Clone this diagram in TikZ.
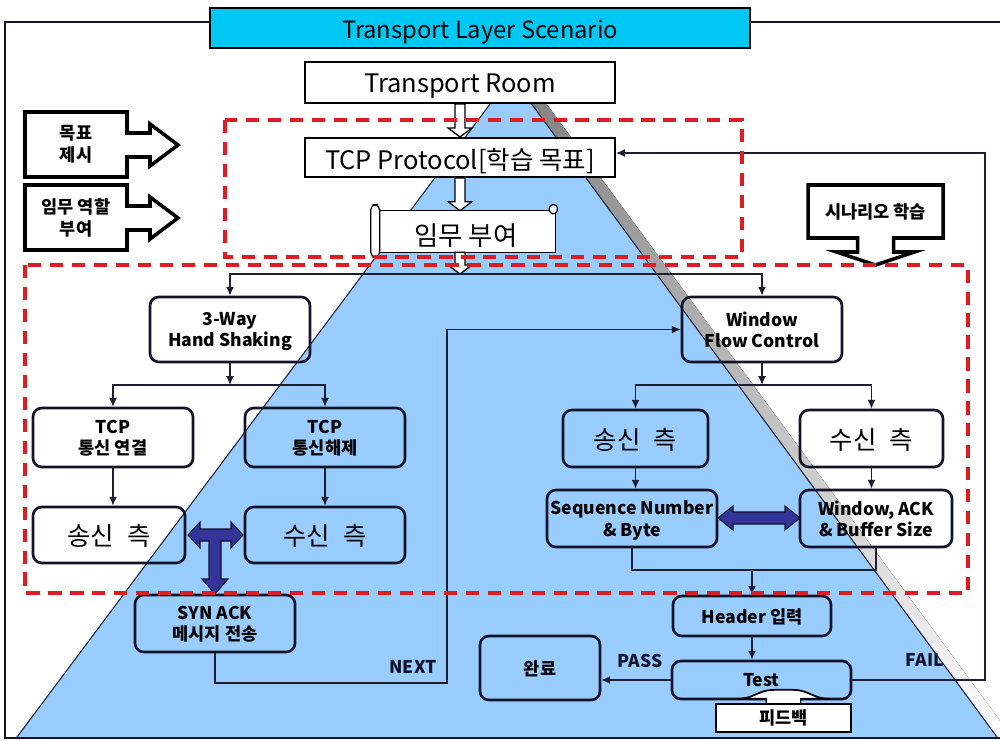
\documentclass[tikz,border=0pt]{standalone}
\usepackage{fontspec}
\setmainfont{Noto Sans CJK KR}
\usetikzlibrary{arrows.meta,calc}

\definecolor{pyramid}{RGB}{153,204,255}
\definecolor{shade}{RGB}{178,178,178}
\definecolor{titlecyan}{RGB}{0,200,245}
\definecolor{dashred}{RGB}{222,28,36}
\definecolor{navyarrow}{RGB}{51,51,153}
\definecolor{boxline}{RGB}{18,18,40}
\definecolor{linec}{RGB}{30,30,50}

% white block arrow pointing down, centred on the x of #1, from y of #2 to y of #3
\newcommand{\hollowdown}[3]{%
  \draw[hollow] ($(#1 |- #2)+(-5,0)$) -- ($(#1 |- #3)+(-5,-9)$) -- ($(#1 |- #3)+(-12,-9)$)
    -- (#1 |- #3) -- ($(#1 |- #3)+(12,-9)$) -- ($(#1 |- #3)+(5,-9)$) -- ($(#1 |- #2)+(5,0)$) -- cycle;}
% one line of text set a little lower than its natural box
\newcommand{\lowered}[1]{\raisebox{-2.2pt}[\height][\depth]{#1}}

\begin{document}
\begin{tikzpicture}[x=0.02cm,y=-0.02cm,
  conn/.style={draw=linec, line width=0.7pt},
  arr/.style={conn, -{Latex[length=5pt,width=4.5pt]}},
  rbox/.style={draw=boxline, line width=1.5pt, rounded corners=5pt, align=center,
    inner sep=1pt, text depth=-1pt, font=\fontsize{10}{12}\selectfont\bfseries},
  bigbox/.style={rbox, font=\fontsize{14.5}{16}\selectfont},
  whitebox/.style={draw=black, line width=1.2pt, fill=white, align=center, inner sep=0pt,
    font=\fontsize{14.5}{16}\selectfont},
  callout/.style={draw=black, line width=2pt, fill=white, line join=miter},
  calltxt/.style={align=center, font=\fontsize{10}{12.5}\selectfont\bfseries},
  hollow/.style={draw=black, line width=0.7pt, fill=white},
  fat/.style={draw=boxline, line width=0.6pt, fill=navyarrow, line join=miter},
  redbox/.style={draw=dashred, line width=2.5pt, dash pattern=on 7.5pt off 5pt},
  lbl/.style={font=\fontsize{10}{12}\selectfont\bfseries, text=boxline},
  frame/.style={draw=boxline, line width=1.6pt}
]
\useasboundingbox (0,0) rectangle (1000,740);

% pyramid with its grey shadow
\fill[shade] (526,76) -- (1012,737) -- (32,737) -- cycle;
\fill[pyramid] (511,76) -- (997,737) -- (17,737) -- cycle;
\draw[linec, line width=0.6pt] (17,737) -- (511,76) -- (997,737);

% outer frame
\draw[frame] (1000,22) -- (5,22) -- (5,738) -- (1000,738);

% title bar
\node[draw=black, line width=1.2pt, fill=titlecyan, minimum width=10.8cm, minimum height=0.8cm,
  inner sep=0pt, font=\fontsize{13.5}{15}\selectfont] (title) at (480,28) {\lowered{Transport Layer Scenario}};

% upper chain
\node[whitebox, minimum width=6.2cm, minimum height=0.82cm] (troom) at (460,82.5) {\lowered{Transport Room}};
\node[whitebox, minimum width=6.2cm, minimum height=0.78cm] (tcpp) at (460,157.5) {\lowered{TCP Protocol[학습 목표]}};

% scroll
\node[minimum width=3.56cm, minimum height=0.82cm, inner sep=0pt] (task) at (466,231.5) {};
\draw[black, line width=0.7pt, fill=white] (task.north west) rectangle (task.south east);
\draw[black, line width=0.7pt, fill=white, rounded corners=3pt]
  ($(task.north west)+(-6,-6)$) rectangle ($(task.south west)+(3,5)$);
\draw[black, line width=0.7pt, fill=white, rounded corners=2pt]
  ($(task.north east)+(-6,-6)$) rectangle ($(task.north east)+(2,3)$);
\node[font=\fontsize{15}{17}\selectfont] (tasktxt) at (task.center) {\lowered{임무 부여}};

\coordinate (j0) at (460,274);
\hollowdown{troom.south}{troom.south}{tcpp.north}
\hollowdown{troom.south}{tcpp.south}{task.north}
\hollowdown{troom.south}{task.south}{j0}

% side callouts
\draw[callout] (25,112) -- (127,112) -- (127,133) -- (150,133) -- (150,124) -- (178,145)
  -- (150,166) -- (150,157) -- (127,157) -- (127,177) -- (25,177) -- cycle;
\node[calltxt] (goal) at (76,144.5) {목표\\제시};
\draw[callout] (25,185) -- (127,185) -- (127,206) -- (150,206) -- (150,197) -- (178,218)
  -- (150,239) -- (150,230) -- (127,230) -- (127,250) -- (25,250) -- cycle;
\node[calltxt] (role) at (76,217.5) {임무 역할\\부여};
\draw[callout] (808,185) -- (943,185) -- (943,238) -- (893.5,238) -- (893.5,252) -- (914.5,252)
  -- (875.5,265) -- (836.5,252) -- (857.5,252) -- (857.5,238) -- (808,238) -- cycle;
\node[calltxt] (scen) at (875.5,211.5) {시나리오 학습};

% handshake branch
\node[rbox, minimum width=3.2cm, minimum height=1.3cm] (hs) at (230,329.5) {3-Way\\Hand Shaking};
\node[rbox, minimum width=3.2cm, minimum height=1.18cm] (tcpc) at (113,437.5) {TCP\\통신 연결};
\node[rbox, minimum width=3.2cm, minimum height=1.18cm] (tcpd) at (325,437.5) {TCP\\통신해제};
\node[bigbox, minimum width=3.04cm, minimum height=1.12cm] (sendL) at (109,535) {송신\hspace{0.5em}측};
\node[bigbox, minimum width=3.2cm, minimum height=1.12cm] (recvL) at (325,535) {수신\hspace{0.5em}측};
\node[rbox, minimum width=3.2cm, minimum height=1.14cm] (syn) at (215,623.5) {SYN ACK\\메시지 전송};

% window branch
\node[rbox, minimum width=3.2cm, minimum height=1.3cm] (wfc) at (762,329.5) {Window\\Flow Control};
\node[bigbox, minimum width=2.9cm, minimum height=1.14cm] (sendR) at (635.5,438.5) {송신\hspace{0.5em}측};
\node[bigbox, minimum width=2.86cm, minimum height=1.14cm] (recvR) at (871.5,438.5) {수신\hspace{0.5em}측};
\node[rbox, minimum width=3.4cm, minimum height=1.14cm] (seq) at (632,518.5) {Sequence Number\\\& Byte};
\node[rbox, minimum width=3.04cm, minimum height=1.14cm] (wack) at (876,518.5) {Window, ACK\\\& Buffer Size};

% test stage
\node[rbox, minimum width=3.16cm, minimum height=0.8cm] (hdr) at (752,616) {Header 입력};
\node[rbox, minimum width=3.58cm, minimum height=0.76cm] (test) at (761.5,680) {Test};
\node[rbox, minimum width=2.4cm, minimum height=1.28cm] (done) at (540,668) {완료};
\node[draw=black, line width=1.3pt, fill=white, minimum width=2.7cm, minimum height=0.56cm,
  inner sep=0pt, font=\fontsize{10}{12}\selectfont\bfseries] (fb) at (783.5,718) {피드백};
\draw[black, line width=1pt, fill=white, line join=round]
  ($(fb.north)+(-17,0)$) -- ($(fb.north)+(-17,-4)$) -- ($(fb.north)+(-46,-4)$)
  .. controls ($(fb.north)+(-30,-4)$) and ($(fb.north)+(-25,-13)$) .. ($(fb.north)+(-10,-13)$)
  -- ($(fb.north)+(10,-13)$)
  .. controls ($(fb.north)+(25,-13)$) and ($(fb.north)+(30,-4)$) .. ($(fb.north)+(46,-4)$)
  -- ($(fb.north)+(17,-4)$) -- ($(fb.north)+(17,0)$);
\fill[white] ($(fb.north)+(-16.4,-4.6)$) rectangle ($(fb.north)+(16.4,0.3)$);

% connectors
\draw[arr] (j0) -| (hs);
\draw[arr] (j0) -| (wfc);
\coordinate (j1) at (230,385);
\draw[arr] (hs.south) -- (j1);
\draw[arr] (j1) -| (tcpc);
\draw[arr] (j1) -| (tcpd);
\draw[arr] (tcpc.south) -- (tcpc.south |- sendL.north);
\draw[arr] (tcpd.south) -- (tcpd.south |- recvL.north);

\coordinate (j2) at (762,385);
\draw[arr] (wfc.south) -- (j2);
\draw[arr] (j2) -| (sendR);
\draw[arr] (j2) -| (recvR);
\draw[arr] (sendR.south) -- (sendR.south |- seq.north);
\draw[arr] (recvR.south) -- (recvR.south |- wack.north);

\coordinate (j3) at (752,570);
\draw[conn] (seq.south) |- (j3) -| (wack.south);
\draw[arr] (j3) -- (hdr.north);
\draw[arr] (hdr.south) -- (hdr.south |- test.north);

\coordinate (nx) at (447,683);
\draw[arr] (syn.south) |- (nx) |- (wfc.west);
\node[lbl] (lnext) at (413,667) {NEXT};

\draw[arr] (test.west) -- (test.west -| done.east);
\node[lbl] (lpass) at (640,661) {PASS};

\coordinate (fl) at (985,153);
\draw[arr] (test.east) -| (fl) -- (fl -| tcpp.east);
\node[lbl] (lfail) at (925,660) {FAIL};

% navy double arrows
\draw[fat] (188,535) -- (200,522) -- (200,529) -- (231,529) -- (231,522) -- (243,535) -- (231,548)
  -- (231,541) -- (221,541) -- (221,579) -- (228,579) -- (215,594) -- (202,579) -- (209,579)
  -- (209,541) -- (200,541) -- (200,548) -- cycle;
\draw[fat] (718,518) -- (733,506) -- (733,512) -- (785,512) -- (785,506) -- (800,518) -- (785,530)
  -- (785,524) -- (733,524) -- (733,530) -- cycle;

% dashed regions
\draw[redbox] (225,120) rectangle (742,257);
\draw[redbox] (25,265) rectangle (968,593);
\end{tikzpicture}
\end{document}
